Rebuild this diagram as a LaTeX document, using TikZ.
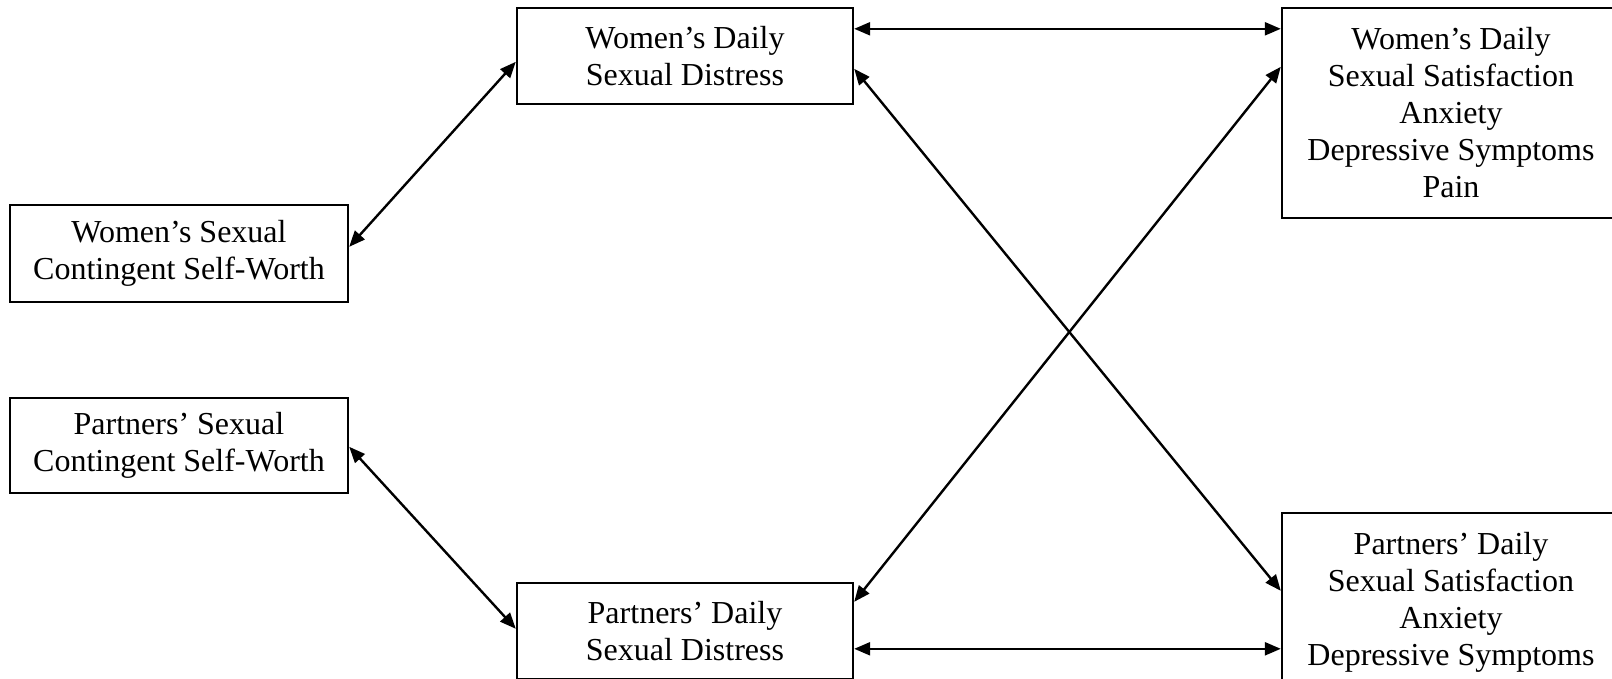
\documentclass[tikz,border=0pt]{standalone}
\usepackage{fontspec}
\setmainfont{Liberation Serif}
\usetikzlibrary{arrows.meta}
\begin{document}
\begin{tikzpicture}[x=1pt,y=-1pt,
  box/.style={draw, line width=2.4pt, align=center, inner sep=0pt,
    font=\fontsize{32}{37}\selectfont},
  link/.style={line width=2.4pt, {Triangle[length=16pt,width=13pt]}-{Triangle[length=16pt,width=13pt]}}]
\useasboundingbox (0,0) rectangle (1612,678);
\node[box, minimum width=338, minimum height=97] (wcsw) at (179,253.5) {Women’s Sexual\\Contingent Self-Worth};
\node[box, minimum width=338, minimum height=95] (pcsw) at (179,445.5) {Partners’ Sexual\\Contingent Self-Worth};
\node[box, minimum width=336, minimum height=96] (wdsd) at (685,56) {Women’s Daily\\Sexual Distress};
\node[box, minimum width=336, minimum height=96] (pdsd) at (685,631) {Partners’ Daily\\Sexual Distress};
\node[box, minimum width=338, minimum height=210] (wout) at (1451,113) {Women’s Daily\\Sexual Satisfaction\\Anxiety\\Depressive Symptoms\\Pain};
\node[box, minimum width=338, minimum height=210] (pout) at (1451,618) {Partners’ Daily\\Sexual Satisfaction\\Anxiety\\Depressive Symptoms\\\vphantom{Pain}};
\draw[link] ([yshift=-22pt]wdsd.north east) -- ([yshift=-22pt]wout.north west);
\draw[link] ([yshift=-43pt]wcsw.north east) -- ([yshift=-55pt]wdsd.north west);
\draw[link] ([yshift=-62pt]wdsd.north east) -- ([yshift=-79pt]pout.north west);
\draw[link] ([yshift=-20pt]pdsd.north east) -- ([yshift=-60pt]wout.north west);
\draw[link] ([yshift=-67pt]pdsd.north east) -- ([yshift=-137pt]pout.north west);
\draw[link] ([yshift=-50pt]pcsw.north east) -- ([yshift=-47pt]pdsd.north west);
\end{tikzpicture}
\end{document}
